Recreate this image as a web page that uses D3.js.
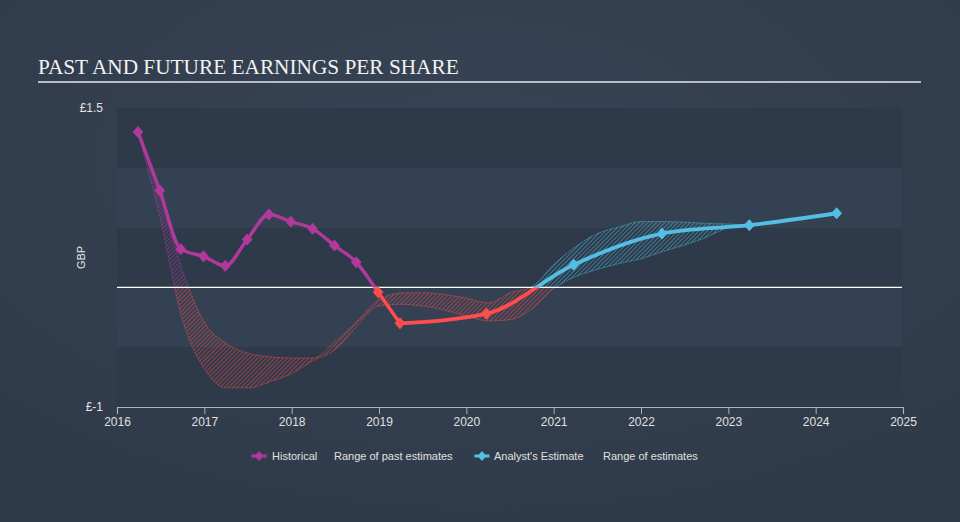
<!DOCTYPE html>
<html>
<head>
<meta charset="utf-8">
<title>Past and future earnings per share</title>
<script src="https://d3js.org/d3.v7.min.js"></script>
<style>
  body { margin: 0; background: #333f4f; }
  svg { display: block; }
  .tick text { font-family: "Liberation Sans", Arial, sans-serif; }
</style>
</head>
<body>
<svg width="960" height="522"></svg>
<script>
// historical EPS (decimal years)
const histDates = [2016.24, 2016.49, 2016.73, 2016.99, 2017.24, 2017.49, 2017.74, 2017.99, 2018.24, 2018.49, 2018.74, 2018.99, 2019.24];
const histEps   = [1.30, 0.81, 0.32, 0.26, 0.18, 0.40, 0.61, 0.55, 0.49, 0.35, 0.21, -0.04, -0.30];

// analyst estimates, starting from the last reported value
const estDates = [2019.24, 2020.23, 2021.23, 2022.24, 2023.24, 2024.24];
const estEps   = [-0.30, -0.22, 0.19, 0.45, 0.52, 0.62];

// range of past estimates
const pastRangeDates = [2016.24, 2016.5, 2016.75, 2017.0, 2017.25, 2017.5, 2017.75, 2018.0, 2018.25, 2018.5, 2018.75, 2019.0, 2019.25];
const pastRangeLow   = [1.30, 0.56, -0.27, -0.68, -0.84, -0.84, -0.79, -0.72, -0.61, -0.52, -0.32, -0.155, -0.14];
const pastRangeHigh  = [1.30, 0.75, 0.14, -0.29, -0.47, -0.55, -0.58, -0.59, -0.59, -0.45, -0.28, -0.10, -0.045];

// range of future estimates
const estRangeDates = [2019.25, 2019.5, 2019.75, 2020.0, 2020.25, 2020.5, 2020.75, 2021.0, 2021.25, 2021.5, 2021.75, 2022.0, 2022.25, 2022.5, 2022.75, 2023.0, 2023.24];
const estRangeLow   = [-0.14, -0.155, -0.19, -0.24, -0.28, -0.27, -0.18, -0.01, 0.09, 0.15, 0.20, 0.24, 0.30, 0.355, 0.42, 0.50, 0.52];
const estRangeHigh  = [-0.045, -0.045, -0.06, -0.09, -0.13, -0.045, 0.005, 0.19, 0.34, 0.45, 0.505, 0.55, 0.55, 0.545, 0.535, 0.53, 0.52];

const yearTicks = [2016, 2017, 2018, 2019, 2020, 2021, 2022, 2023, 2024, 2025];
const yTicks = [-1, 1.5];
const yTickLabels = ["£-1", "£1.5"];

const purple = "#b2399c", red = "#ff4d4d", blue = "#53bfe4";

const svg = d3.select("svg");
const plotLeft = 117, plotRight = 903, plotTop = 108, plotBottom = 407;

const x = d3.scaleLinear().domain([2016, 2025]).range([plotLeft, plotRight]);
const y = d3.scaleLinear().domain([-1, 1.5]).range([plotBottom, plotTop]);

// background
const defs = svg.append("defs");
const grad = defs.append("radialGradient").attr("id", "bgGrad").attr("cx", "50%").attr("cy", "30%").attr("r", "75%");
grad.append("stop").attr("offset", "0%").attr("stop-color", "#374455");
grad.append("stop").attr("offset", "100%").attr("stop-color", "#2f3a49");
svg.append("rect").attr("width", 960).attr("height", 522).attr("fill", "url(#bgGrad)");

// hatch patterns
function hatch(id, color) {
  defs.append("pattern")
    .attr("id", id)
    .attr("patternUnits", "userSpaceOnUse")
    .attr("width", 3).attr("height", 3)
    .attr("patternTransform", "rotate(45)")
    .append("line")
    .attr("x1", 0).attr("y1", 0).attr("x2", 0).attr("y2", 3)
    .attr("stroke", color).attr("stroke-width", 1.2).attr("stroke-opacity", 1);
}
hatch("hRed", red);
hatch("hPurple", purple);
hatch("hBlue", blue);

// clip regions above / below zero
defs.append("clipPath").attr("id", "above").append("rect")
  .attr("x", 0).attr("y", 0).attr("width", 960).attr("height", y(0));
defs.append("clipPath").attr("id", "below").append("rect")
  .attr("x", 0).attr("y", y(0)).attr("width", 960).attr("height", 522 - y(0));

// alternating rows in plot area
const rows = d3.range(-1, 1.5, 0.5);
svg.append("g").selectAll("rect")
  .data(rows)
  .enter().append("rect")
  .attr("x", plotLeft)
  .attr("width", plotRight - plotLeft - 1)
  .attr("y", d => y(d + 0.5))
  .attr("height", d => y(d) - y(d + 0.5))
  .attr("fill", (d, i) => i % 2 === 0 ? "#2e3a49" : "#344152");

// title
svg.append("text")
  .attr("x", 38).attr("y", 74)
  .attr("font-family", "'Liberation Serif', 'Times New Roman', serif")
  .attr("font-size", 21.3)
  .attr("fill", "#f2f2f2")
  .text("PAST AND FUTURE EARNINGS PER SHARE");
svg.append("rect").attr("x", 38).attr("y", 81).attr("width", 883).attr("height", 2).attr("fill", "#b8bdc5");

// y labels
svg.append("g").selectAll("text")
  .data(yTicks)
  .enter().append("text")
  .attr("x", 103).attr("y", d => y(d))
  .attr("dy", "0.35em")
  .attr("text-anchor", "end")
  .attr("font-family", "'Liberation Sans', Arial, sans-serif")
  .attr("font-size", 12)
  .attr("fill", "#e6e6e6")
  .text((d, i) => yTickLabels[i]);

svg.append("text")
  .attr("transform", `translate(85,${(plotTop + plotBottom) / 2}) rotate(-90)`)
  .attr("text-anchor", "middle")
  .attr("font-family", "'Liberation Sans', Arial, sans-serif")
  .attr("font-size", 11)
  .attr("fill", "#e6e6e6")
  .text("GBP");

// x axis
const xAxis = d3.axisBottom(x).tickValues(yearTicks).tickFormat(d3.format("d")).tickSize(7).tickPadding(3);
const gx = svg.append("g").attr("transform", `translate(0,${plotBottom})`).call(xAxis);
gx.select(".domain").attr("stroke", "#a9b3c1").attr("stroke-width", 1.2);
gx.selectAll(".tick line").attr("stroke", "#a9b3c1");
gx.selectAll(".tick text").attr("fill", "#e0e0e0").attr("font-size", 12);

// ranges: hatched fill plus dotted edges
function drawBand(dates, lo, hi, posFill, posColor) {
  const area = d3.area()
    .x((d, i) => x(dates[i]))
    .y0((d, i) => y(lo[i]))
    .y1((d, i) => y(hi[i]))
    .curve(d3.curveMonotoneX);
  const edge = vals => d3.line()
    .x((d, i) => x(dates[i]))
    .y((d, i) => y(vals[i]))
    .curve(d3.curveMonotoneX)(dates);
  [["above", posFill, posColor], ["below", "url(#hRed)", red]].forEach(([clip, fill, col]) => {
    const g = svg.append("g").attr("clip-path", `url(#${clip})`);
    g.append("path")
      .attr("d", area(dates))
      .attr("fill", fill)
      .attr("fill-opacity", 0.8);
    [lo, hi].forEach(vals => {
      g.append("path")
        .attr("d", edge(vals))
        .attr("fill", "none")
        .attr("stroke", col)
        .attr("stroke-width", 0.9)
        .attr("stroke-opacity", 0.75)
        .attr("stroke-dasharray", "1.5,1");
    });
  });
}
drawBand(pastRangeDates, pastRangeLow, pastRangeHigh, "url(#hPurple)", purple);
drawBand(estRangeDates, estRangeLow, estRangeHigh, "url(#hBlue)", blue);

// zero line
svg.append("line")
  .attr("x1", plotLeft).attr("x2", plotRight - 1)
  .attr("y1", y(0)).attr("y2", y(0))
  .attr("stroke", "#ffffff").attr("stroke-width", 1.3);

// lines
function drawLine(dates, vals, posColor, width) {
  const line = d3.line()
    .x((d, i) => x(dates[i]))
    .y((d, i) => y(vals[i]))
    .curve(d3.curveMonotoneX);
  [["above", posColor], ["below", red]].forEach(([clip, col]) => {
    svg.append("path")
      .datum(dates)
      .attr("clip-path", `url(#${clip})`)
      .attr("d", line)
      .attr("fill", "none")
      .attr("stroke", col)
      .attr("stroke-width", width)
      .attr("stroke-linejoin", "round");
  });
}
drawLine(histDates, histEps, purple, 3.4);
drawLine(estDates, estEps, blue, 3.8);

const diamond = "M0,-5.5L4.8,0L0,5.5L-4.8,0Z";
function drawMarkers(dates, vals, posColor) {
  svg.append("g").selectAll("path")
    .data(dates)
    .enter().append("path")
    .attr("d", diamond)
    .attr("transform", (d, i) => `translate(${x(d)},${y(vals[i])})`)
    .attr("fill", (d, i) => vals[i] < 0 ? red : posColor)
    .attr("stroke", (d, i) => vals[i] < 0 ? red : posColor)
    .attr("stroke-width", 1)
    .attr("stroke-linejoin", "round");
}
drawMarkers(histDates, histEps, purple);
drawMarkers(estDates.slice(1), estEps.slice(1), blue);

// legend
const legend = [
  { x: 259, text: "Historical", color: purple, marker: true, tx: 272 },
  { x: null, text: "Range of past estimates", tx: 334 },
  { x: 482, text: "Analyst's Estimate", color: blue, marker: true, tx: 494 },
  { x: null, text: "Range of estimates", tx: 603 }
];
const ly = 456;
legend.forEach(l => {
  if (l.marker) {
    svg.append("line")
      .attr("x1", l.x - 7.5).attr("x2", l.x + 7.5)
      .attr("y1", ly).attr("y2", ly)
      .attr("stroke", l.color).attr("stroke-width", 3);
    svg.append("path")
      .attr("d", "M0,-5L4.5,0L0,5L-4.5,0Z")
      .attr("transform", `translate(${l.x},${ly})`)
      .attr("fill", l.color);
  }
  svg.append("text")
    .attr("x", l.tx).attr("y", ly)
    .attr("dy", "0.35em")
    .attr("font-family", "'Liberation Sans', Arial, sans-serif")
    .attr("font-size", 11)
    .attr("fill", "#e0e0e0")
    .text(l.text);
});
</script>
</body>
</html>
